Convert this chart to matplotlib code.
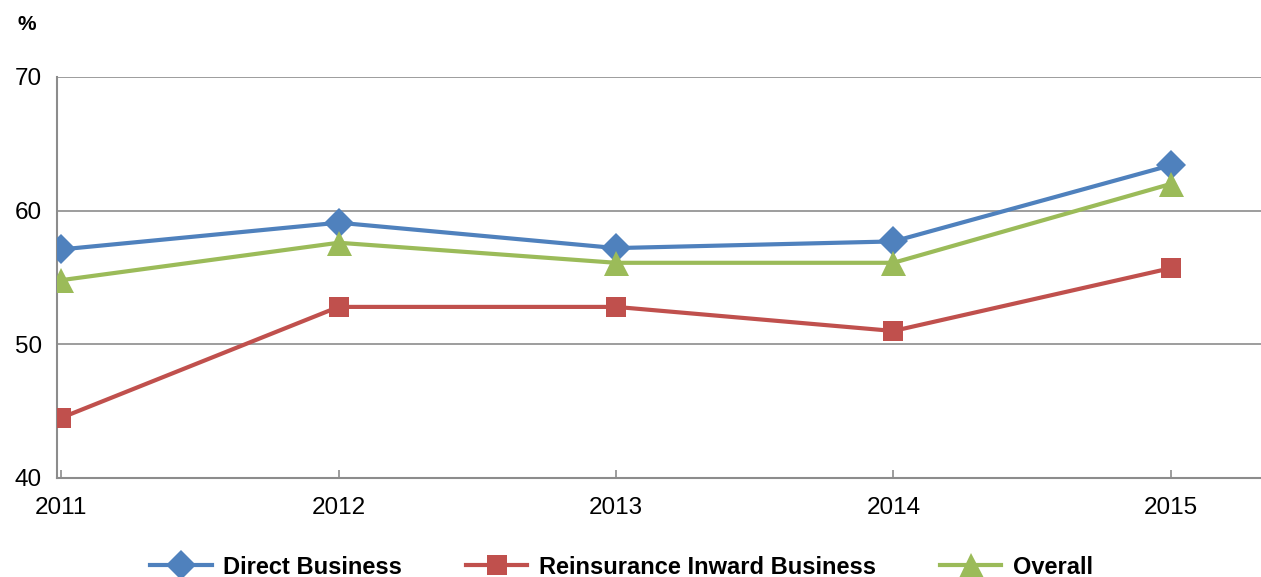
import matplotlib

matplotlib.use("Agg")
import matplotlib.pyplot as plt

plt.rcParams["font.family"] = ["Liberation Sans", "DejaVu Sans"]

years = [2011, 2012, 2013, 2014, 2015]
direct_business = [57.1, 59.1, 57.2, 57.7, 63.4]
reinsurance_inward = [44.5, 52.8, 52.8, 51.0, 55.7]
overall = [54.8, 57.6, 56.1, 56.1, 62.0]

series = [
    ("Direct Business", direct_business, "#4F81BD", "D", 15),
    ("Reinsurance Inward Business", reinsurance_inward, "#C0504D", "s", 15),
    ("Overall", overall, "#9BBB59", "^", 18),
]

fig = plt.figure(figsize=(12.61, 5.77), dpi=100)
ax = fig.add_axes([57 / 1261, 1 - 478 / 577, 1 - 57 / 1261, (478 - 77) / 577])

for name, vals, color, marker, ms in series:
    ax.plot(years, vals, color=color, linewidth=3, marker=marker,
            markersize=ms, markeredgewidth=0, label=name, zorder=3)

ax.set_xlim(2010.985, 2015.325)
ax.set_ylim(40, 70)
ax.set_yticks([40, 50, 60, 70])
ax.set_xticks(years)
ax.grid(True, axis="y", color="#8c8c8c", linewidth=1.2)
ax.set_axisbelow(True)
for side in ["top", "right"]:
    ax.spines[side].set_visible(False)
for side in ["left", "bottom"]:
    ax.spines[side].set_color("#8c8c8c")
    ax.spines[side].set_linewidth(1.5)
ax.tick_params(axis="both", labelsize=17.5, colors="#8c8c8c", labelcolor="black",
               length=6, width=1.2)
ax.tick_params(axis="y", length=0, pad=11)
ax.tick_params(axis="x", direction="in", pad=14)

fig.text(17 / 1261, 1 - 25 / 577, "%", fontsize=15, fontweight="bold", va="center")

leg = fig.legend(loc="center", bbox_to_anchor=(0.493, 1 - 567 / 577), ncol=3,
                 frameon=False, prop={"size": 17, "weight": "bold"},
                 handlelength=2.6, columnspacing=2.7, handletextpad=0.5)

fig.savefig("out.png", dpi=100)
